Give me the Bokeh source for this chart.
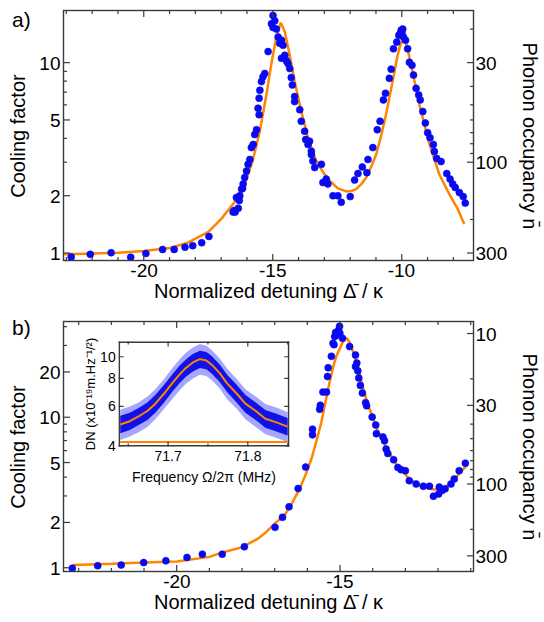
import math
from bokeh.plotting import figure
from bokeh.models import (Range1d, LogAxis, LogScale, LinearScale, FixedTicker,
                          PrintfTickFormatter, Div)
from bokeh.core.properties import value
from bokeh.layouts import column
from bokeh.embed import file_html
from bokeh.resources import INLINE

FONT = "Liberation Sans"
BLUE = "#0a0af2"
ORANGE = "#ff8400"
AXC = "#3a3a3a"

# ---------------- Panel a data ----------------
a_x = [-22.83, -22.09, -21.28, -20.52, -19.93, -19.28, -18.83, -18.41, -18.11, -17.76, -17.48,
       -16.54, -16.50, -16.46, -16.34, -16.41, -16.30, -16.28, -16.21, -16.17, -16.15, -16.09,
       -16.02, -15.96, -15.89, -15.83, -15.76, -15.70, -15.63, -15.57, -15.53, -15.53, -15.50,
       -15.44, -15.38, -15.31, -15.18, -14.99, -14.92, -15.05, -14.99, -14.86, -14.79, -14.73,
       -14.66, -14.60, -14.53, -14.66, -14.47, -14.41, -14.34, -14.28, -14.24, -14.15, -14.15,
       -13.95, -13.89, -13.76, -13.72, -13.63, -13.57, -13.50, -13.50, -13.44, -13.37, -13.11,
       -13.05, -12.92, -12.86, -12.66, -12.47, -12.34, -11.99, -11.82, -11.69, -11.52, -11.34,
       -11.30, -11.11, -10.94, -10.83, -10.70, -10.62, -10.47, -10.40, -10.31, -10.18, -10.10,
       -10.05, -10.01, -9.98, -9.95, -9.92, -9.84, -9.76, -9.69, -9.59, -9.53, -9.43, -9.33,
       -9.27, -9.17, -9.07, -8.98, -8.89, -8.76, -8.72, -8.63, -8.46, -8.24, -8.11, -8.01,
       -7.91, -7.75, -7.60, -7.52]
a_y = [0.96, 0.99, 1.01, 0.957, 1.0, 1.05, 1.05, 1.08, 1.10, 1.14, 1.23,
       1.65, 1.68, 1.65, 1.73, 1.97, 1.90, 2.01, 2.18, 2.20, 2.32, 2.51,
       2.71, 2.94, 3.12, 3.60, 3.74, 4.22, 4.47, 5.80, 5.36, 6.54, 7.20,
       8.0, 8.49, 8.83, 11.5, 17.8, 16.7, 16.1, 15.4, 15.1, 13.7, 12.7,
       13.2, 12.4, 11.0, 10.6, 10.3, 9.96, 9.37, 8.40, 7.68, 6.67, 6.28,
       5.69, 4.95, 4.39, 3.97, 3.74, 3.89, 3.31, 3.45, 3.06, 2.83, 2.94,
       2.36, 2.46, 2.32, 2.01, 2.01, 1.86, 1.99, 2.43, 2.63, 2.85, 2.66,
       3.12, 3.60, 4.47, 4.95, 6.41, 6.94, 8.32, 9.30, 11.9, 12.9, 14.0,
       14.3, 14.9, 14.5, 15.1, 13.7, 13.2, 11.9, 10.1, 9.75, 8.66, 7.37, 6.80,
       6.41, 5.57, 4.85, 4.31, 4.06, 3.74, 3.43, 3.16, 3.04, 2.63, 2.46, 2.32,
       2.22, 2.09, 1.99, 1.84]
a_fit_x = [-23.1, -22.0, -21.0, -20.0, -19.0, -18.3, -17.5, -17.0, -16.5, -16.1, -15.8, -15.5,
           -15.24, -15.05, -14.86, -14.69, -14.53, -14.34, -14.15, -13.89, -13.63, -13.31,
           -13.0, -12.79, -12.47, -12.14, -11.95, -11.76, -11.55, -11.37, -11.18, -10.98,
           -10.8, -10.6, -10.43, -10.27, -10.15, -10.05, -9.92, -9.84, -9.76, -9.57, -9.3,
           -8.91, -8.53, -8.14, -7.8, -7.56]
a_fit_y = [0.99, 1.0, 1.01, 1.03, 1.07, 1.14, 1.30, 1.52, 1.85, 2.3, 3.0, 4.4,
           6.9, 10.0, 13.7, 16.3, 14.6, 11.0, 8.0, 5.57, 4.06, 3.06,
           2.62, 2.41, 2.2, 2.12, 2.13, 2.18, 2.32, 2.51, 2.85, 3.31,
           4.1, 5.36, 7.0, 9.0, 11.0, 12.4, 13.4, 13.0, 11.9, 9.0, 6.05,
           3.74, 2.61, 2.05, 1.7, 1.43]
a_n_const = 300.0          # phonon occupancy = a_n_const / cooling factor
a_x_lim = (-23.13, -7.2)
a_cf_lim = (0.908, 18.9)
a_x_major = [-20, -15, -10]
a_x_minor = [-23, -22, -21, -19, -18, -17, -16, -14, -13, -12, -11, -9, -8]
a_cf_major = [1, 2, 5, 10]
a_cf_minor = [3, 4, 6, 7, 8, 9]
a_n_major = [30, 100, 300]
a_n_minor = [20, 40, 50, 60, 70, 80, 90, 200]

# ---------------- Panel b data ----------------
b_x = [-23.21, -22.43, -21.71, -21.02, -20.34, -19.69, -19.22, -18.61, -17.93, -16.99,
       -16.76, -16.56, -16.28, -16.05, -15.84, -15.84, -15.62, -15.60, -15.52, -15.41,
       -15.38, -15.36, -15.26, -15.18, -15.13, -15.09, -15.04, -15.01, -15.00, -15.16,
       -15.21, -14.92, -14.70, -14.52, -14.48, -14.52, -14.45, -14.42, -14.37, -14.31,
       -14.21, -14.18, -14.01, -13.90, -13.88, -13.68, -13.63, -13.58, -13.53, -13.35,
       -13.22, -13.12, -12.99, -12.87, -12.66, -12.44, -12.25, -12.13, -11.97, -11.95,
       -11.87, -11.77, -11.59, -11.49, -11.34, -11.15]
b_y = [1.0, 1.04, 1.05, 1.09, 1.12, 1.18, 1.24, 1.24, 1.39, 1.87,
       2.18, 2.56, 3.39, 4.70, 7.70, 8.40, 11.4, 12.1, 14.8, 14.8,
       18.8, 21.5, 25.6, 30.6, 36.9, 35.5, 38.1, 40.5, 36.4, 34.6,
       31.2, 33.7, 29.7, 26.1, 23.1, 21.9, 20.5, 18.4, 16.4, 14.6,
       12.6, 12.0, 10.1, 8.95, 7.84, 7.46, 7.03, 6.19, 5.79, 5.26,
       4.67, 4.52, 4.45, 3.82, 3.63, 3.51, 3.51, 3.01, 3.12, 3.46,
       3.28, 3.37, 3.63, 3.92, 4.45, 4.99]
b_fit_x = [-23.2, -22.0, -21.0, -20.0, -19.0, -18.68, -18.0, -17.5, -17.25, -17.0, -16.69,
           -16.45, -16.23, -16.05, -15.87, -15.72, -15.57, -15.45, -15.32, -15.2, -15.11,
           -14.95, -14.85, -14.78, -14.7, -14.6, -14.5, -14.39, -14.27, -14.14, -14.0,
           -13.88, -13.58, -13.27, -12.87, -12.46, -12.1, -11.9, -11.74, -11.6, -11.44,
           -11.25, -11.08]
b_fit_y = [1.05, 1.07, 1.09, 1.11, 1.19, 1.26, 1.38, 1.58, 1.75, 1.98, 2.26,
           2.75, 3.39, 4.2, 5.34, 7.0, 9.3, 12.5, 17.1, 22.0, 25.6,
           30.6, 33.4, 33.7, 31.5, 27.6, 23.5, 19.3, 15.3, 12.2, 10.2,
           8.6, 6.34, 4.92, 3.92, 3.46, 3.34, 3.36, 3.49, 3.7, 4.02,
           4.45, 4.92]
b_n_const = 360.0
b_x_lim = (-23.48, -10.9)
b_cf_lim = (0.937, 43.6)
b_x_major = [-20, -15]
b_x_minor = [-23, -22, -21, -19, -18, -17, -16, -14, -13, -12, -11]
b_cf_major = [1, 2, 5, 10, 20]
b_cf_minor = [3, 4, 6, 7, 8, 9, 30, 40]
b_n_major = [10, 30, 100, 300]
b_n_minor = [20, 40, 50, 60, 70, 80, 90, 200]

# ---------------- Inset data ----------------
ins_f = [71.640, 71.652, 71.663, 71.674, 71.684, 71.695, 71.705, 71.714, 71.722, 71.731, 71.740,
         71.748, 71.755, 71.765, 71.774, 71.786, 71.797, 71.810, 71.822, 71.835, 71.850]
ins_fit = [4.98, 5.15, 5.41, 5.72, 6.17, 6.85, 7.6, 8.3, 8.89, 9.43, 9.76,
           9.63, 9.2, 8.43, 7.6, 6.85, 6.17, 5.72, 5.28, 5.1, 4.87]
ins_outer_hi = [5.8, 6.0, 6.25, 6.65, 7.15, 7.95, 8.85, 9.7, 10.4, 11.0, 11.4,
                11.2, 10.7, 9.8, 8.85, 7.95, 7.15, 6.65, 6.15, 5.95, 5.65]
ins_outer_lo = [4.25, 4.4, 4.6, 4.85, 5.25, 5.85, 6.45, 7.05, 7.55, 8.0, 8.3,
                8.2, 7.85, 7.2, 6.45, 5.85, 5.25, 4.85, 4.5, 4.35, 4.15]
ins_inner_hi = [5.45, 5.62, 5.9, 6.25, 6.75, 7.5, 8.3, 9.1, 9.7, 10.3, 10.65,
                10.5, 10.05, 9.2, 8.3, 7.5, 6.75, 6.25, 5.78, 5.58, 5.32]
ins_inner_lo = [4.55, 4.7, 4.95, 5.22, 5.62, 6.25, 6.95, 7.6, 8.12, 8.6, 8.9,
                8.8, 8.4, 7.7, 6.95, 6.25, 5.62, 5.22, 4.82, 4.65, 4.45]
ins_bg_level = 4.16
ins_f_lim = (71.638, 71.852)
ins_v_lim = (3.97, 11.7)
ins_f_major = [71.7, 71.8]
ins_f_labels = ["71.7", "71.8"]
ins_f_minor = [71.65, 71.75, 71.85]
ins_v_major = [4, 6, 8, 10]
ins_v_labels = ["4", "6", "8", "10"]

# ---------------- layout constants (pixels) ----------------
PAGE_W = 544
FRAME_L, FRAME_W = 63, 411
A_H, A_TOP = 310, 10
B_H, B_TOP = 311, 11
BORDER_BOTTOM = 49
A_FRAME_H = A_H - A_TOP - BORDER_BOTTOM
B_FRAME_H = B_H - B_TOP - BORDER_BOTTOM
MAJ_LEN, MIN_LEN = 7.0, 4.0
EDGE_W, TICK_W = 1.4, 1.2
# inset box inside panel-b frame (px from frame left / frame bottom)
INS_L, INS_R, INS_B, INS_T = 55.3, 226.3, 126.0, 231.0


def style_axis(ax, size="19px", label_size="20px", label_standoff=2, title_standoff=0):
    ax.axis_line_color = None
    ax.major_tick_line_color = None
    ax.minor_tick_line_color = None
    ax.major_tick_in = 0
    ax.major_tick_out = 0
    ax.minor_tick_in = 0
    ax.minor_tick_out = 0
    ax.major_label_text_font = FONT
    ax.major_label_text_font_size = size
    ax.major_label_text_color = "black"
    ax.axis_label_text_font = FONT
    ax.axis_label_text_font_style = "normal"
    ax.axis_label_text_font_size = label_size
    ax.axis_label_text_color = "black"
    ax.major_label_standoff = label_standoff
    ax.axis_label_standoff = title_standoff


def make_panel(height, top, xs, ys, fx, fy, xlim, cflim, nconst, xmaj, xmin_,
               cfmaj, cfmin, nmaj, nmin, extra_x=None, extra_y=None):
    p = figure(width=PAGE_W, height=height, x_range=Range1d(*xlim), y_range=Range1d(*cflim),
               y_axis_type="log", output_backend="svg", toolbar_location=None,
               min_border_left=FRAME_L, min_border_right=PAGE_W - FRAME_L - FRAME_W,
               min_border_top=top, min_border_bottom=BORDER_BOTTOM)
    p.xgrid.visible = False
    p.ygrid.visible = False
    p.outline_line_color = None
    p.background_fill_color = "white"
    p.border_fill_color = "white"

    p.xaxis.ticker = FixedTicker(ticks=xmaj, minor_ticks=xmin_)
    p.xaxis.formatter = PrintfTickFormatter(format="%d")
    p.xaxis.axis_label = "Normalized detuning \u0394\u0304 / \u03ba"
    style_axis(p.xaxis[0])

    p.yaxis.ticker = FixedTicker(ticks=cfmaj, minor_ticks=cfmin)
    p.yaxis.formatter = PrintfTickFormatter(format="%d")
    p.yaxis.axis_label = "Cooling factor"
    style_axis(p.yaxis[0], label_standoff=3, title_standoff=7)

    yranges = {"n": Range1d(nconst / cflim[0], nconst / cflim[1])}
    yscales = {"n": LogScale()}
    if extra_x:
        p.extra_x_ranges = extra_x[0]
        p.extra_x_scales = extra_x[1]
    if extra_y:
        yranges.update(extra_y[0])
        yscales.update(extra_y[1])
    p.extra_y_ranges = yranges
    p.extra_y_scales = yscales

    r_ax = LogAxis(y_range_name="n", ticker=FixedTicker(ticks=nmaj, minor_ticks=nmin),
                   axis_label="Phonon occupancy n\u0304")
    style_axis(r_ax, label_standoff=2, title_standoff=9)
    r_ax.formatter = PrintfTickFormatter(format="%d")
    p.add_layout(r_ax, "right")

    p.line(fx, fy, line_color=ORANGE, line_width=2.5)
    p.scatter(xs, ys, size=7, fill_color=BLUE, line_color=BLUE, line_alpha=0.6)
    return p


def frame_overlay(height, top, frame_h, xlim, cflim, nconst, xmaj, xmin_, cfmaj, cfmin,
                  nmaj, nmin, margin_top):
    """Frame box and inward ticks drawn as an SVG overlay on top of a panel."""
    L, R = FRAME_L, FRAME_L + FRAME_W
    T, B = top, top + frame_h
    lc0, lc1 = math.log10(cflim[0]), math.log10(cflim[1])

    def sx(x):
        return L + (x - xlim[0]) / (xlim[1] - xlim[0]) * FRAME_W

    def sy(c):
        return T + (lc1 - math.log10(c)) / (lc1 - lc0) * frame_h

    def ln(x0, y0, x1, y1):
        return (f'<line x1="{x0:.2f}" y1="{y0:.2f}" x2="{x1:.2f}" y2="{y1:.2f}" '
                f'stroke="{AXC}" stroke-width="{TICK_W}"/>')

    parts = [f'<rect x="{L + 0.5}" y="{T + 0.5}" width="{FRAME_W - 1}" height="{frame_h - 1}" '
             f'fill="none" stroke="{AXC}" stroke-width="{EDGE_W}"/>']
    for vals, d in ((xmaj, MAJ_LEN), (xmin_, MIN_LEN)):
        for v in vals:
            parts.append(ln(sx(v), B, sx(v), B - d))
            parts.append(ln(sx(v), T, sx(v), T + d))
    for vals, d in ((cfmaj, MAJ_LEN), (cfmin, MIN_LEN)):
        for v in vals:
            parts.append(ln(L, sy(v), L + d, sy(v)))
    for vals, d in ((nmaj, MAJ_LEN), (nmin, MIN_LEN)):
        for n in vals:
            c = nconst / n
            parts.append(ln(R, sy(c), R - d, sy(c)))
    svg = (f'<svg xmlns="http://www.w3.org/2000/svg" width="{PAGE_W}" height="{height}" '
           f'style="display:block">' + "".join(parts) + "</svg>")
    d = Div(text=svg, width=PAGE_W, height=height,
            styles={"pointer-events": "none", "overflow": "visible"})
    d.margin = (margin_top, 0, 0, 0)
    return d


pa = make_panel(A_H, A_TOP, a_x, a_y, a_fit_x, a_fit_y, a_x_lim, a_cf_lim, a_n_const,
                a_x_major, a_x_minor, a_cf_major, a_cf_minor, a_n_major, a_n_minor)

# inset coordinate system laid over panel b's frame
f_per_px = (ins_f_lim[1] - ins_f_lim[0]) / (INS_R - INS_L)
fx_range = Range1d(ins_f_lim[0] - INS_L * f_per_px, ins_f_lim[1] + (FRAME_W - INS_R) * f_per_px)
lv0, lv1 = math.log10(ins_v_lim[0]), math.log10(ins_v_lim[1])
lv_per_px = (lv1 - lv0) / (INS_T - INS_B)
fy_range = Range1d(10 ** (lv0 - INS_B * lv_per_px), 10 ** (lv1 + (B_FRAME_H - INS_T) * lv_per_px))

pb = make_panel(B_H, B_TOP, b_x, b_y, b_fit_x, b_fit_y, b_x_lim, b_cf_lim, b_n_const,
                b_x_major, b_x_minor, b_cf_major, b_cf_minor, b_n_major, b_n_minor,
                extra_x=({"fx": fx_range}, {"fx": LinearScale()}),
                extra_y=({"fy": fy_range}, {"fy": LogScale()}))

I = dict(x_range_name="fx", y_range_name="fy")
f0, f1 = ins_f_lim
v0, v1 = ins_v_lim
pb.quad(left=[f0], right=[f1], bottom=[v0], top=[v1], fill_color="white",
        line_color=None, **I)
pb.varea(x=ins_f, y1=ins_outer_lo, y2=ins_outer_hi, fill_color="#5c5cff", fill_alpha=0.55, **I)
pb.varea(x=ins_f, y1=ins_inner_lo, y2=ins_inner_hi, fill_color="#0808e8", fill_alpha=0.95, **I)
pb.line(ins_f, ins_fit, line_color=ORANGE, line_width=2, **I)
pb.line([f0 + 1.5 * f_per_px, f1 - 1.5 * f_per_px], [ins_bg_level, ins_bg_level],
        line_color=ORANGE, line_width=2, **I)


def ins_bars(left, right, bottom, top):
    pb.quad(left=left, right=right, bottom=bottom, top=top, fill_color=AXC, line_color=None, **I)


ry_i = 10 ** lv_per_px
ins_bars([f0, f1 - EDGE_W * f_per_px, f0, f0], [f0 + EDGE_W * f_per_px, f1, f1, f1],
         [v0, v0, v0, v1 / ry_i ** EDGE_W], [v1, v1, v0 * ry_i ** EDGE_W, v1])
hw = TICK_W / 2
for vals, d in ((ins_f_major, 5.0), (ins_f_minor, 3.0)):
    k = len(vals)
    lefts = [v - hw * f_per_px for v in vals]
    rights = [v + hw * f_per_px for v in vals]
    ins_bars(lefts, rights, [v0] * k, [v0 * ry_i ** d] * k)
    ins_bars(lefts, rights, [v1 / ry_i ** d] * k, [v1] * k)
k = len(ins_v_major)
ins_bars([f0] * k, [f0 + 5 * f_per_px] * k, [v / ry_i ** hw for v in ins_v_major],
         [v * ry_i ** hw for v in ins_v_major])
ins_bars([f1 - 5 * f_per_px] * k, [f1] * k, [v / ry_i ** hw for v in ins_v_major],
         [v * ry_i ** hw for v in ins_v_major])

TXT = dict(text_font=value(FONT), text_color="black")
pb.text(x=ins_f_major, y=[v0] * len(ins_f_major), text=ins_f_labels, text_font_size=value("14px"),
        text_align="center", text_baseline="top", y_offset=4, **TXT, **I)
pb.text(x=[f0] * len(ins_v_major), y=ins_v_major, text=ins_v_labels,
        text_font_size=value("14px"), text_align="right", text_baseline="middle",
        x_offset=-3, **TXT, **I)
pb.text(x=[(f0 + f1) / 2], y=[v0], text=["Frequency \u03a9/2\u03c0 (MHz)"],
        text_font_size=value("14px"), text_align="center", text_baseline="top",
        y_offset=22, **TXT, **I)
pb.text(x=[f0 - 21 * f_per_px], y=[math.sqrt(v0 * v1)],
        text=["DN (x10\u207b\u00b9\u2079m.Hz\u207b\u00b9/\u00b2)"],
        text_font_size=value("13px"), text_align="center", text_baseline="bottom",
        angle=math.pi / 2, **TXT, **I)

ov_a = frame_overlay(A_H, A_TOP, A_FRAME_H, a_x_lim, a_cf_lim, a_n_const, a_x_major, a_x_minor,
                     a_cf_major, a_cf_minor, a_n_major, a_n_minor, -(A_H + B_H))
ov_b = frame_overlay(B_H, B_TOP, B_FRAME_H, b_x_lim, b_cf_lim, b_n_const, b_x_major, b_x_minor,
                     b_cf_major, b_cf_minor, b_n_major, b_n_minor, 0)

TAG_STYLE = {"font-family": FONT, "font-size": "21px", "color": "black", "line-height": "24px"}
div_a = Div(text="a)", width=30, height=26, styles=TAG_STYLE)
div_a.margin = (8 - (A_H + B_H), 0, 0, 12)
div_b = Div(text="b)", width=30, height=26, styles=TAG_STYLE)
div_b.margin = (316 - 34, 0, 0, 12)

layout = column(pa, pb, ov_a, ov_b, div_a, div_b)
open("out.html", "w").write(file_html(layout, INLINE))
